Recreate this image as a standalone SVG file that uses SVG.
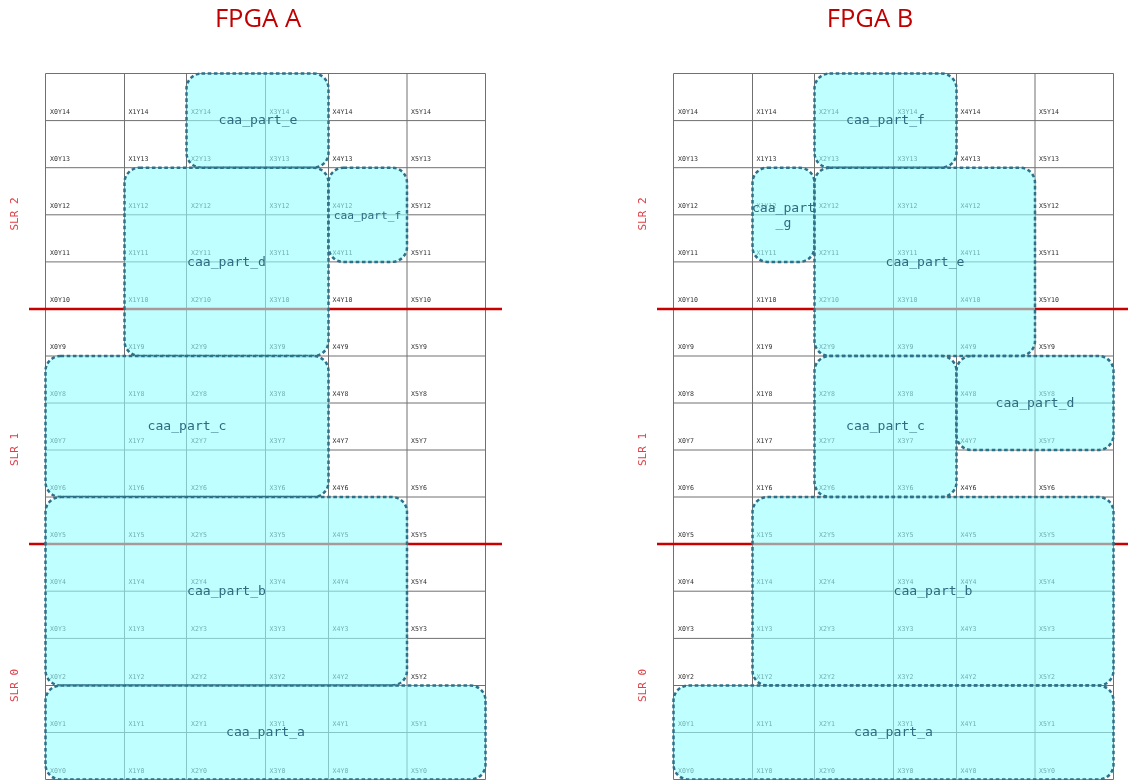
<svg xmlns="http://www.w3.org/2000/svg" width="1128" height="780" viewBox="0 0 1128 780">
<style>
.t{font-family:"Open Sans",sans-serif;font-size:25.6px;fill:#c00000;text-anchor:middle}
.s{font-family:"DejaVu Sans Mono",monospace;font-size:11px;fill:#e04048;text-anchor:middle}
.c{font-family:"DejaVu Sans Mono",monospace;font-size:6.6px;fill:#333}
.g{fill:none;stroke:#707070;stroke-width:1}
.r{stroke:#c80000;stroke-width:2.4;fill:none}
.p{fill:#94ffff;fill-opacity:.6;stroke:#2f6f88;stroke-width:2.5;stroke-dasharray:3.6 2.6}
.l{font-family:"DejaVu Sans Mono",monospace;font-size:13.1px;fill:#2f6b80;text-anchor:middle}
</style>
<defs><filter id="soft" x="0" y="0" width="1" height="1" filterUnits="objectBoundingBox"><feGaussianBlur stdDeviation="0.45"/></filter></defs>
<rect width="1128" height="780" fill="#fff"/>
<g filter="url(#soft)">
<rect width="1128" height="780" fill="#fff"/>
<text class="t" x="258" y="27">FPGA A</text>
<text class="t" x="870" y="27">FPGA B</text>
<text class="s" transform="translate(18 214) rotate(-90)">SLR 2</text>
<text class="s" transform="translate(18 449.5) rotate(-90)">SLR 1</text>
<text class="s" transform="translate(18 685.5) rotate(-90)">SLR 0</text>
<text class="s" transform="translate(646 214) rotate(-90)">SLR 2</text>
<text class="s" transform="translate(646 449.5) rotate(-90)">SLR 1</text>
<text class="s" transform="translate(646 685.5) rotate(-90)">SLR 0</text>
<g id="connectors">
<path id="grid-a" class="g" d="M45.5 73.5V779.5M124.5 73.5V779.5M186.5 73.5V779.5M265.5 73.5V779.5M328.5 73.5V779.5M407 73.5V779.5M485.5 73.5V779.5M45.5 73.5H485.5M45.5 120.6H485.5M45.5 167.7H485.5M45.5 214.8H485.5M45.5 261.9H485.5M45.5 309H485.5M45.5 356H485.5M45.5 403H485.5M45.5 450H485.5M45.5 497H485.5M45.5 544H485.5M45.5 591.2H485.5M45.5 638.4H485.5M45.5 685.5H485.5M45.5 732.5H485.5M45.5 779.5H485.5"/>
<path id="grid-b" class="g" d="M673.5 73.5V779.5M752.5 73.5V779.5M814.5 73.5V779.5M893.5 73.5V779.5M956.5 73.5V779.5M1035 73.5V779.5M1113.5 73.5V779.5M673.5 73.5H1113.5M673.5 120.6H1113.5M673.5 167.7H1113.5M673.5 214.8H1113.5M673.5 261.9H1113.5M673.5 309H1113.5M673.5 356H1113.5M673.5 403H1113.5M673.5 450H1113.5M673.5 497H1113.5M673.5 544H1113.5M673.5 591.2H1113.5M673.5 638.4H1113.5M673.5 685.5H1113.5M673.5 732.5H1113.5M673.5 779.5H1113.5"/>
<path class="r" d="M29 309H502M29 544H502M657 309H1128M657 544H1128"/>
</g>
<g id="cells-a" transform="translate(0 -0.8)">
<text class="c" x="50" y="115">X0Y14</text><text class="c" x="128.5" y="115">X1Y14</text><text class="c" x="191" y="115">X2Y14</text><text class="c" x="269.5" y="115">X3Y14</text><text class="c" x="332.5" y="115">X4Y14</text><text class="c" x="411" y="115">X5Y14</text>
<text class="c" x="50" y="162">X0Y13</text><text class="c" x="128.5" y="162">X1Y13</text><text class="c" x="191" y="162">X2Y13</text><text class="c" x="269.5" y="162">X3Y13</text><text class="c" x="332.5" y="162">X4Y13</text><text class="c" x="411" y="162">X5Y13</text>
<text class="c" x="50" y="209">X0Y12</text><text class="c" x="128.5" y="209">X1Y12</text><text class="c" x="191" y="209">X2Y12</text><text class="c" x="269.5" y="209">X3Y12</text><text class="c" x="332.5" y="209">X4Y12</text><text class="c" x="411" y="209">X5Y12</text>
<text class="c" x="50" y="256">X0Y11</text><text class="c" x="128.5" y="256">X1Y11</text><text class="c" x="191" y="256">X2Y11</text><text class="c" x="269.5" y="256">X3Y11</text><text class="c" x="332.5" y="256">X4Y11</text><text class="c" x="411" y="256">X5Y11</text>
<text class="c" x="50" y="303">X0Y10</text><text class="c" x="128.5" y="303">X1Y10</text><text class="c" x="191" y="303">X2Y10</text><text class="c" x="269.5" y="303">X3Y10</text><text class="c" x="332.5" y="303">X4Y10</text><text class="c" x="411" y="303">X5Y10</text>
<text class="c" x="50" y="350">X0Y9</text><text class="c" x="128.5" y="350">X1Y9</text><text class="c" x="191" y="350">X2Y9</text><text class="c" x="269.5" y="350">X3Y9</text><text class="c" x="332.5" y="350">X4Y9</text><text class="c" x="411" y="350">X5Y9</text>
<text class="c" x="50" y="397">X0Y8</text><text class="c" x="128.5" y="397">X1Y8</text><text class="c" x="191" y="397">X2Y8</text><text class="c" x="269.5" y="397">X3Y8</text><text class="c" x="332.5" y="397">X4Y8</text><text class="c" x="411" y="397">X5Y8</text>
<text class="c" x="50" y="444">X0Y7</text><text class="c" x="128.5" y="444">X1Y7</text><text class="c" x="191" y="444">X2Y7</text><text class="c" x="269.5" y="444">X3Y7</text><text class="c" x="332.5" y="444">X4Y7</text><text class="c" x="411" y="444">X5Y7</text>
<text class="c" x="50" y="491">X0Y6</text><text class="c" x="128.5" y="491">X1Y6</text><text class="c" x="191" y="491">X2Y6</text><text class="c" x="269.5" y="491">X3Y6</text><text class="c" x="332.5" y="491">X4Y6</text><text class="c" x="411" y="491">X5Y6</text>
<text class="c" x="50" y="538">X0Y5</text><text class="c" x="128.5" y="538">X1Y5</text><text class="c" x="191" y="538">X2Y5</text><text class="c" x="269.5" y="538">X3Y5</text><text class="c" x="332.5" y="538">X4Y5</text><text class="c" x="411" y="538">X5Y5</text>
<text class="c" x="50" y="585">X0Y4</text><text class="c" x="128.5" y="585">X1Y4</text><text class="c" x="191" y="585">X2Y4</text><text class="c" x="269.5" y="585">X3Y4</text><text class="c" x="332.5" y="585">X4Y4</text><text class="c" x="411" y="585">X5Y4</text>
<text class="c" x="50" y="632">X0Y3</text><text class="c" x="128.5" y="632">X1Y3</text><text class="c" x="191" y="632">X2Y3</text><text class="c" x="269.5" y="632">X3Y3</text><text class="c" x="332.5" y="632">X4Y3</text><text class="c" x="411" y="632">X5Y3</text>
<text class="c" x="50" y="680">X0Y2</text><text class="c" x="128.5" y="680">X1Y2</text><text class="c" x="191" y="680">X2Y2</text><text class="c" x="269.5" y="680">X3Y2</text><text class="c" x="332.5" y="680">X4Y2</text><text class="c" x="411" y="680">X5Y2</text>
<text class="c" x="50" y="727">X0Y1</text><text class="c" x="128.5" y="727">X1Y1</text><text class="c" x="191" y="727">X2Y1</text><text class="c" x="269.5" y="727">X3Y1</text><text class="c" x="332.5" y="727">X4Y1</text><text class="c" x="411" y="727">X5Y1</text>
<text class="c" x="50" y="774">X0Y0</text><text class="c" x="128.5" y="774">X1Y0</text><text class="c" x="191" y="774">X2Y0</text><text class="c" x="269.5" y="774">X3Y0</text><text class="c" x="332.5" y="774">X4Y0</text><text class="c" x="411" y="774">X5Y0</text>
</g>
<g id="cells-b" transform="translate(0 -0.8)">
<text class="c" x="678" y="115">X0Y14</text><text class="c" x="756.5" y="115">X1Y14</text><text class="c" x="819" y="115">X2Y14</text><text class="c" x="897.5" y="115">X3Y14</text><text class="c" x="960.5" y="115">X4Y14</text><text class="c" x="1039" y="115">X5Y14</text>
<text class="c" x="678" y="162">X0Y13</text><text class="c" x="756.5" y="162">X1Y13</text><text class="c" x="819" y="162">X2Y13</text><text class="c" x="897.5" y="162">X3Y13</text><text class="c" x="960.5" y="162">X4Y13</text><text class="c" x="1039" y="162">X5Y13</text>
<text class="c" x="678" y="209">X0Y12</text><text class="c" x="756.5" y="209">X1Y12</text><text class="c" x="819" y="209">X2Y12</text><text class="c" x="897.5" y="209">X3Y12</text><text class="c" x="960.5" y="209">X4Y12</text><text class="c" x="1039" y="209">X5Y12</text>
<text class="c" x="678" y="256">X0Y11</text><text class="c" x="756.5" y="256">X1Y11</text><text class="c" x="819" y="256">X2Y11</text><text class="c" x="897.5" y="256">X3Y11</text><text class="c" x="960.5" y="256">X4Y11</text><text class="c" x="1039" y="256">X5Y11</text>
<text class="c" x="678" y="303">X0Y10</text><text class="c" x="756.5" y="303">X1Y10</text><text class="c" x="819" y="303">X2Y10</text><text class="c" x="897.5" y="303">X3Y10</text><text class="c" x="960.5" y="303">X4Y10</text><text class="c" x="1039" y="303">X5Y10</text>
<text class="c" x="678" y="350">X0Y9</text><text class="c" x="756.5" y="350">X1Y9</text><text class="c" x="819" y="350">X2Y9</text><text class="c" x="897.5" y="350">X3Y9</text><text class="c" x="960.5" y="350">X4Y9</text><text class="c" x="1039" y="350">X5Y9</text>
<text class="c" x="678" y="397">X0Y8</text><text class="c" x="756.5" y="397">X1Y8</text><text class="c" x="819" y="397">X2Y8</text><text class="c" x="897.5" y="397">X3Y8</text><text class="c" x="960.5" y="397">X4Y8</text><text class="c" x="1039" y="397">X5Y8</text>
<text class="c" x="678" y="444">X0Y7</text><text class="c" x="756.5" y="444">X1Y7</text><text class="c" x="819" y="444">X2Y7</text><text class="c" x="897.5" y="444">X3Y7</text><text class="c" x="960.5" y="444">X4Y7</text><text class="c" x="1039" y="444">X5Y7</text>
<text class="c" x="678" y="491">X0Y6</text><text class="c" x="756.5" y="491">X1Y6</text><text class="c" x="819" y="491">X2Y6</text><text class="c" x="897.5" y="491">X3Y6</text><text class="c" x="960.5" y="491">X4Y6</text><text class="c" x="1039" y="491">X5Y6</text>
<text class="c" x="678" y="538">X0Y5</text><text class="c" x="756.5" y="538">X1Y5</text><text class="c" x="819" y="538">X2Y5</text><text class="c" x="897.5" y="538">X3Y5</text><text class="c" x="960.5" y="538">X4Y5</text><text class="c" x="1039" y="538">X5Y5</text>
<text class="c" x="678" y="585">X0Y4</text><text class="c" x="756.5" y="585">X1Y4</text><text class="c" x="819" y="585">X2Y4</text><text class="c" x="897.5" y="585">X3Y4</text><text class="c" x="960.5" y="585">X4Y4</text><text class="c" x="1039" y="585">X5Y4</text>
<text class="c" x="678" y="632">X0Y3</text><text class="c" x="756.5" y="632">X1Y3</text><text class="c" x="819" y="632">X2Y3</text><text class="c" x="897.5" y="632">X3Y3</text><text class="c" x="960.5" y="632">X4Y3</text><text class="c" x="1039" y="632">X5Y3</text>
<text class="c" x="678" y="680">X0Y2</text><text class="c" x="756.5" y="680">X1Y2</text><text class="c" x="819" y="680">X2Y2</text><text class="c" x="897.5" y="680">X3Y2</text><text class="c" x="960.5" y="680">X4Y2</text><text class="c" x="1039" y="680">X5Y2</text>
<text class="c" x="678" y="727">X0Y1</text><text class="c" x="756.5" y="727">X1Y1</text><text class="c" x="819" y="727">X2Y1</text><text class="c" x="897.5" y="727">X3Y1</text><text class="c" x="960.5" y="727">X4Y1</text><text class="c" x="1039" y="727">X5Y1</text>
<text class="c" x="678" y="774">X0Y0</text><text class="c" x="756.5" y="774">X1Y0</text><text class="c" x="819" y="774">X2Y0</text><text class="c" x="897.5" y="774">X3Y0</text><text class="c" x="960.5" y="774">X4Y0</text><text class="c" x="1039" y="774">X5Y0</text>
</g>
<g id="a-part-e"><rect class="p" x="186.5" y="73.5" width="142" height="94.2" rx="15"/><text class="l" x="258" y="124">caa_part_e</text></g>
<g id="a-part-d"><rect class="p" x="124.5" y="167.7" width="204" height="188.3" rx="15"/><text class="l" x="226.5" y="266">caa_part_d</text></g>
<g id="a-part-f"><rect class="p" x="328.5" y="167.7" width="78.5" height="94.2" rx="15"/><text class="l" x="367.5" y="219" style="font-size:11.2px">caa_part_f</text></g>
<g id="a-part-c"><rect class="p" x="45.5" y="356" width="283" height="141" rx="15"/><text class="l" x="187" y="430">caa_part_c</text></g>
<g id="a-part-b"><rect class="p" x="45.5" y="497" width="361.5" height="188.5" rx="15"/><text class="l" x="226.5" y="595">caa_part_b</text></g>
<g id="a-part-a"><rect class="p" x="45.5" y="685.5" width="440" height="94" rx="15"/><text class="l" x="265.5" y="736">caa_part_a</text></g>
<g id="b-part-f"><rect class="p" x="814.5" y="73.5" width="142" height="94.2" rx="15"/><text class="l" x="885.5" y="124">caa_part_f</text></g>
<g id="b-part-g"><rect class="p" x="752.5" y="167.7" width="62" height="94.2" rx="15"/><text class="l" x="783.5" y="212">caa_part</text><text class="l" x="783.5" y="227">_g</text></g>
<g id="b-part-e"><rect class="p" x="814.5" y="167.7" width="220.5" height="188.3" rx="15"/><text class="l" x="925" y="266">caa_part_e</text></g>
<g id="b-part-c"><rect class="p" x="814.5" y="356" width="142" height="141" rx="15"/><text class="l" x="885.5" y="430">caa_part_c</text></g>
<g id="b-part-d"><rect class="p" x="956.5" y="356" width="157" height="94" rx="15"/><text class="l" x="1035" y="407">caa_part_d</text></g>
<g id="b-part-b"><rect class="p" x="752.5" y="497" width="361" height="188.5" rx="15"/><text class="l" x="933" y="595">caa_part_b</text></g>
<g id="b-part-a"><rect class="p" x="673.5" y="685.5" width="440" height="94" rx="15"/><text class="l" x="893.5" y="736">caa_part_a</text></g>
</g>
</svg>
